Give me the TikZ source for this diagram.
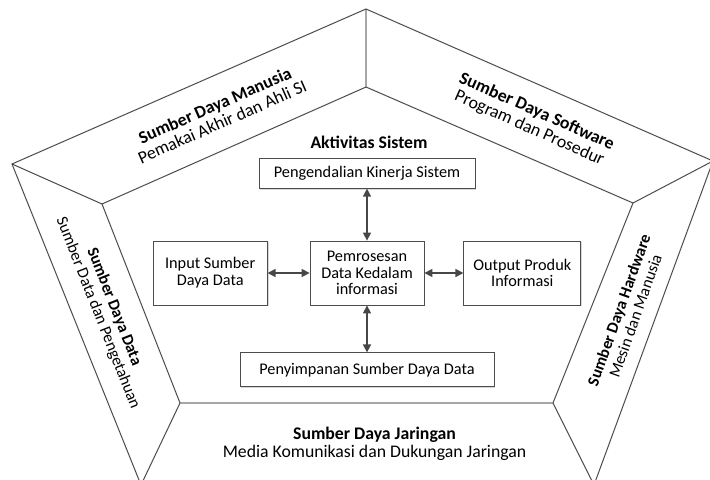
\documentclass[tikz,border=0pt]{standalone}
\usepackage{fontspec}
\setmainfont{Carlito}
\usetikzlibrary{positioning, arrows.meta, shadows}

\begin{document}
\begin{tikzpicture}[x=0.75pt,y=-0.75pt,
  box/.style={draw=black!70, line width=0.6pt, fill=white, align=center, inner sep=0pt,
    font=\fontsize{12.2}{12.6}\selectfont,
    drop shadow={shadow xshift=1pt, shadow yshift=-1pt, fill=black!30, opacity=0.5}},
  link/.style={{Triangle[length=6pt,width=6pt]}-{Triangle[length=6pt,width=6pt]}, draw=black!72, line width=1.1pt},
  facelabel/.style={align=center, font=\fontsize{13.3}{13.6}\selectfont},
  sidelabel/.style={align=center, font=\fontsize{12.2}{13}\selectfont}]
  \useasboundingbox (0,0) rectangle (710,479);

  \coordinate (ot) at (366,9);
  \coordinate (ol) at (12,164);
  \coordinate (or) at (713,161);
  \coordinate (obl) at (141,485);
  \coordinate (obr) at (594,485);
  \coordinate (it) at (366,87);
  \coordinate (il) at (102,204);
  \coordinate (ir) at (633,203);
  \coordinate (ibl) at (180,403);
  \coordinate (ibr) at (553,403);

  \begin{scope}
    \clip (0,0) rectangle (710,479);
    \foreach \dx/\col/\lw in {1.2pt/black!12/1.2pt, 0pt/black!75/0.6pt} {
      \begin{scope}[xshift=\dx, yshift=-\dx, draw=\col, line width=\lw]
        \draw (obl) -- (ol) -- (ot) -- (or) -- (obr);
        \draw (it) -- (il) -- (ibl) -- (ibr) -- (ir) -- cycle;
        \draw (ot) -- (it) (ol) -- (il) (or) -- (ir) (obl) -- (ibl) (obr) -- (ibr);
      \end{scope}
    }
  \end{scope}

  \node[facelabel, rotate=23.7] (manusia) at (218.5,113.5) {\textbf{Sumber Daya Manusia}\\Pemakai Akhir dan Ahli SI};
  \node[facelabel, rotate=-23.9] (software) at (533,120) {\textbf{Sumber Daya Software}\\Program dan Prosedur};
  \node[sidelabel, rotate=-68.5] (data) at (106,310) {\textbf{Sumber Daya Data}\\Sumber Data dan Pengetahuan};
  \node[sidelabel, rotate=70.4] (hardware) at (627,313) {\textbf{Sumber Daya Hardware}\\Mesin dan Manusia};
  \node[facelabel] (jaringan) at (374.5,443.5) {\textbf{Sumber Daya Jaringan}\\Media Komunikasi dan Dukungan Jaringan};
  \node[facelabel] (aktivitas) at (369,142) {\textbf{Aktivitas Sistem}};

  \node[box, minimum width=85.5pt, minimum height=48pt] (proses) at (367,273) {Pemrosesan\\Data Kedalam\\informasi};
  \node[box, minimum width=85.5pt, minimum height=48pt, left=31.5pt of proses] (input) {Input Sumber\\Daya Data};
  \node[box, minimum width=87.75pt, minimum height=48pt, right=29.25pt of proses] (output) {Output Produk\\Informasi};
  \node[box, minimum width=162pt, minimum height=22.5pt, above=39pt of proses] (kendali) {Pengendalian Kinerja Sistem};
  \node[box, minimum width=190.5pt, minimum height=25.5pt, below=35.25pt of proses] (simpan) {Penyimpanan Sumber Daya Data};

  \draw[link] (kendali) -- (proses);
  \draw[link] (input) -- (proses);
  \draw[link] (proses) -- (output);
  \draw[link] (proses) -- (simpan);
\end{tikzpicture}
\end{document}
